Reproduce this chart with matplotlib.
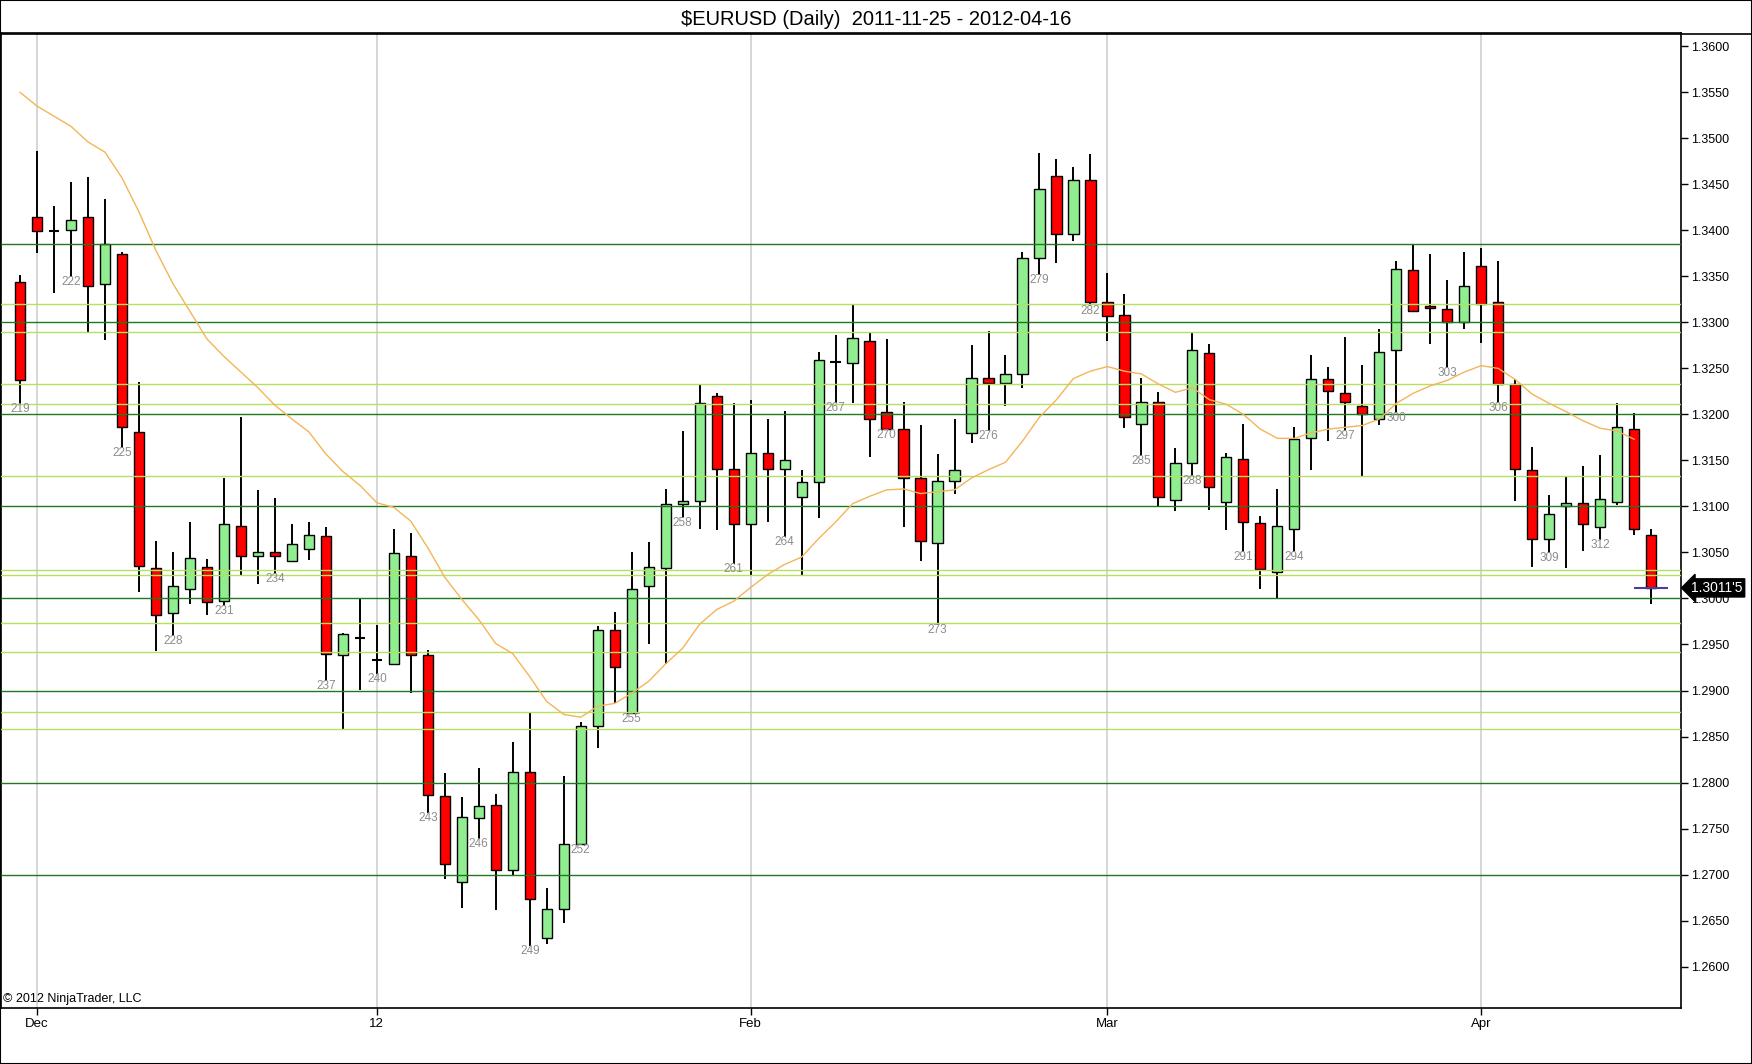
import numpy as np
import matplotlib.pyplot as plt
from matplotlib.transforms import blended_transform_factory

plt.rcParams['font.family'] = ['Liberation Sans', 'DejaVu Sans']

# OHLC (bars 219..315)
first_bar = 219
opens = [1.3344, 1.3414, 1.3399, 1.3400, 1.3414, 1.3342, 1.3374, 1.3181, 1.3033, 1.2984,
         1.3010, 1.3034, 1.2997, 1.3079, 1.3046, 1.3050, 1.3041, 1.3054, 1.3068, 1.2939,
         1.2957, 1.2933, 1.2929, 1.3046, 1.2939, 1.2785, 1.2692, 1.2762, 1.2776, 1.2705,
         1.2812, 1.2631, 1.2663, 1.2733, 1.2861, 1.2966, 1.2876, 1.3014, 1.3033, 1.3103,
         1.3106, 1.3220, 1.3141, 1.3081, 1.3158, 1.3141, 1.3110, 1.3127, 1.3257, 1.3256,
         1.3280, 1.3203, 1.3184, 1.3131, 1.3060, 1.3128, 1.3180, 1.3240, 1.3234, 1.3244,
         1.3370, 1.3459, 1.3396, 1.3455, 1.3322, 1.3308, 1.3190, 1.3213, 1.3107, 1.3147,
         1.3267, 1.3105, 1.3152, 1.3082, 1.3029, 1.3076, 1.3174, 1.3239, 1.3223, 1.3209,
         1.3195, 1.3270, 1.3357, 1.3318, 1.3315, 1.3300, 1.3361, 1.3322, 1.3233, 1.3140,
         1.3065, 1.3101, 1.3104, 1.3078, 1.3105, 1.3184, 1.3069]
highs = [1.3351, 1.3486, 1.3427, 1.3453, 1.3458, 1.3434, 1.3376, 1.3235, 1.3063, 1.3050,
         1.3083, 1.3043, 1.3131, 1.3197, 1.3118, 1.3109, 1.3081, 1.3083, 1.3078, 1.2963,
         1.2999, 1.2971, 1.3076, 1.3071, 1.2944, 1.2810, 1.2784, 1.2816, 1.2788, 1.2844,
         1.2876, 1.2685, 1.2807, 1.2866, 1.2970, 1.2985, 1.3051, 1.3061, 1.3119, 1.3182,
         1.3233, 1.3223, 1.3212, 1.3216, 1.3195, 1.3204, 1.3140, 1.3268, 1.3286, 1.3320,
         1.3288, 1.3282, 1.3214, 1.3189, 1.3157, 1.3195, 1.3275, 1.3291, 1.3265, 1.3376,
         1.3484, 1.3477, 1.3469, 1.3483, 1.3354, 1.3331, 1.3240, 1.3224, 1.3163, 1.3288,
         1.3276, 1.3158, 1.3190, 1.3090, 1.3119, 1.3186, 1.3265, 1.3252, 1.3284, 1.3254,
         1.3293, 1.3367, 1.3385, 1.3374, 1.3346, 1.3377, 1.3381, 1.3367, 1.3238, 1.3165,
         1.3112, 1.3132, 1.3144, 1.3156, 1.3212, 1.3201, 1.3075]
lows = [1.3211, 1.3375, 1.3332, 1.3349, 1.3288, 1.3281, 1.3163, 1.3007, 1.2943, 1.2959,
        1.2994, 1.2982, 1.2992, 1.3024, 1.3016, 1.3027, 1.3040, 1.3042, 1.2910, 1.2858,
        1.2901, 1.2918, 1.2928, 1.2897, 1.2767, 1.2695, 1.2664, 1.2739, 1.2661, 1.2699,
        1.2622, 1.2625, 1.2647, 1.2732, 1.2837, 1.2886, 1.2875, 1.2951, 1.2929, 1.3087,
        1.3076, 1.3074, 1.3037, 1.3025, 1.3083, 1.3067, 1.3026, 1.3087, 1.3212, 1.3212,
        1.3154, 1.3183, 1.3078, 1.3041, 1.2971, 1.3114, 1.3169, 1.3182, 1.3209, 1.3229,
        1.3352, 1.3364, 1.3388, 1.3318, 1.3280, 1.3185, 1.3155, 1.3101, 1.3095, 1.3133,
        1.3096, 1.3074, 1.3051, 1.3010, 1.3001, 1.3050, 1.3140, 1.3171, 1.3182, 1.3133,
        1.3189, 1.3201, 1.3311, 1.3277, 1.3250, 1.3293, 1.3278, 1.3212, 1.3106, 1.3034,
        1.3049, 1.3033, 1.3052, 1.3064, 1.3102, 1.3069, 1.2994]
closes = [1.3237, 1.3399, 1.3399, 1.3411, 1.3339, 1.3385, 1.3186, 1.3035, 1.2982, 1.3014,
          1.3044, 1.2996, 1.3081, 1.3046, 1.3050, 1.3046, 1.3059, 1.3069, 1.2940, 1.2961,
          1.2957, 1.2933, 1.3049, 1.2939, 1.2786, 1.2712, 1.2763, 1.2775, 1.2705, 1.2812,
          1.2674, 1.2663, 1.2733, 1.2861, 1.2966, 1.2926, 1.3010, 1.3034, 1.3103, 1.3106,
          1.3212, 1.3141, 1.3081, 1.3158, 1.3141, 1.3151, 1.3127, 1.3259, 1.3257, 1.3283,
          1.3195, 1.3184, 1.3131, 1.3063, 1.3128, 1.3140, 1.3240, 1.3234, 1.3244, 1.3370,
          1.3445, 1.3396, 1.3455, 1.3322, 1.3307, 1.3197, 1.3213, 1.3110, 1.3147, 1.3270,
          1.3121, 1.3154, 1.3083, 1.3032, 1.3079, 1.3173, 1.3238, 1.3225, 1.3214, 1.3200,
          1.3268, 1.3358, 1.3312, 1.3316, 1.3300, 1.3340, 1.3320, 1.3233, 1.3141, 1.3065,
          1.3092, 1.3104, 1.3081, 1.3108, 1.3186, 1.3076, 1.30115]

# moving average (orange line), ends one bar before the last
ma = [1.3550, 1.3535, 1.3524, 1.3513, 1.3496, 1.3485, 1.3457, 1.3420, 1.3378, 1.3342,
      1.3312, 1.3282, 1.3263, 1.3246, 1.3229, 1.3210, 1.3195, 1.3181, 1.3157, 1.3138,
      1.3123, 1.3104, 1.3099, 1.3084, 1.3055, 1.3023, 1.2999, 1.2977, 1.2951, 1.2940,
      1.2915, 1.2888, 1.2874, 1.2871, 1.2883, 1.2886, 1.2897, 1.2910, 1.2929, 1.2946,
      1.2972, 1.2988, 1.2997, 1.3012, 1.3026, 1.3037, 1.3045, 1.3065, 1.3083, 1.3103,
      1.3111, 1.3118, 1.3119, 1.3114, 1.3116, 1.3118, 1.3131, 1.3140, 1.3148, 1.3171,
      1.3197, 1.3216, 1.3239, 1.3247, 1.3252, 1.3247, 1.3244, 1.3233, 1.3224, 1.3229,
      1.3216, 1.3211, 1.3200, 1.3184, 1.3174, 1.3174, 1.3180, 1.3184, 1.3186, 1.3188,
      1.3195, 1.3212, 1.3223, 1.3231, 1.3237, 1.3246, 1.3253, 1.3250, 1.3238, 1.3222,
      1.3212, 1.3203, 1.3193, 1.3185, 1.3182, 1.3173]

# horizontal levels
dark_levels = [1.3385, 1.3300, 1.3200, 1.3100, 1.3000, 1.2900, 1.2800, 1.2700]
light_levels = [1.3320, 1.3290, 1.3233, 1.3211, 1.3133, 1.3031, 1.3026, 1.2973, 1.2942,
                1.2877, 1.2858]

month_pos = [1, 21, 43, 64, 86]
month_labels = ['Dec', '12', 'Feb', 'Mar', 'Apr']

n = len(opens)
idx = np.arange(n)

fig = plt.figure(figsize=(17.52, 10.64), dpi=100)
ax = fig.add_axes([0.0006, 0.05235, 0.9589, 0.91617])
ax.set_xlim(-1.118, 97.76)
ax.set_ylim(1.25547, 1.36139)

# month gridlines
for p in month_pos:
    ax.axvline(p, color='#d0d0d0', lw=1.2, zorder=0)

# candles
body_w = 0.6
for i in idx:
    o, h, l, c = opens[i], highs[i], lows[i], closes[i]
    ax.vlines(i, l, h, color='black', lw=1.4, zorder=2)
    if abs(c - o) < 0.00006:
        ax.hlines(o, i - body_w / 2, i + body_w / 2, color='black', lw=1.5, zorder=3)
    else:
        col = '#90ee90' if c > o else '#ff0000'
        ax.bar(i, abs(c - o), bottom=min(o, c), width=body_w, color=col,
               edgecolor='black', linewidth=1, zorder=3)

# levels drawn over the candles
for lv in light_levels:
    ax.axhline(lv, color='#b5e061', lw=1, zorder=4)
for lv in dark_levels:
    ax.axhline(lv, color='#1f7a1f', lw=1, zorder=4)

ax.plot(idx[:len(ma)], ma, color='#f4b558', lw=1, zorder=5)

# bar numbers below every third bar
for i in range(0, n - 1, 3):
    ax.annotate(str(first_bar + i), (i, lows[i]), xytext=(0, -5),
                textcoords='offset pixels', ha='center', va='center',
                fontsize=8.5, color='#8c8c8c', zorder=6)

# last close line + price marker
ax.hlines(closes[-1], n - 2, n, color='#4b3ca0', lw=1.5, zorder=6)
trans = blended_transform_factory(ax.transAxes, ax.transData)
ax.text(1.006, closes[-1], "1.3011'5", transform=trans, ha='left', va='center',
        fontsize=10, color='white', zorder=10, clip_on=False,
        bbox=dict(boxstyle='larrow,pad=0.15', fc='black', ec='black'))

# axes styling
ax.yaxis.tick_right()
yt = np.arange(1.26, 1.3601, 0.005)
ax.set_yticks(yt)
ax.set_yticklabels(['%.4f' % v for v in yt], fontsize=9)
ax.set_xticks(month_pos)
ax.set_xticklabels(month_labels, fontsize=9.5)
ax.tick_params(axis='y', direction='out', length=5, width=1, pad=2)
ax.tick_params(axis='x', direction='out', length=5, width=1, pad=2)
for s in ax.spines.values():
    s.set_linewidth(1.2)

ax.text(0.001, 1.2565, '\u00a9 2012 NinjaTrader, LLC', transform=trans,
        fontsize=9, ha='left', va='center')

fig.text(0.5, 0.982, '$EURUSD (Daily)  2011-11-25 - 2012-04-16', ha='center', va='center',
         fontsize=14.5)
fig.add_artist(plt.Line2D([0, 1], [0.9685, 0.9685], color='black', lw=1.2,
                          transform=fig.transFigure))
fig.add_artist(plt.Rectangle((0, 0), 1, 1, fill=False, ec='black', lw=1.5,
                             transform=fig.transFigure))

fig.savefig('out.png', dpi=100)
